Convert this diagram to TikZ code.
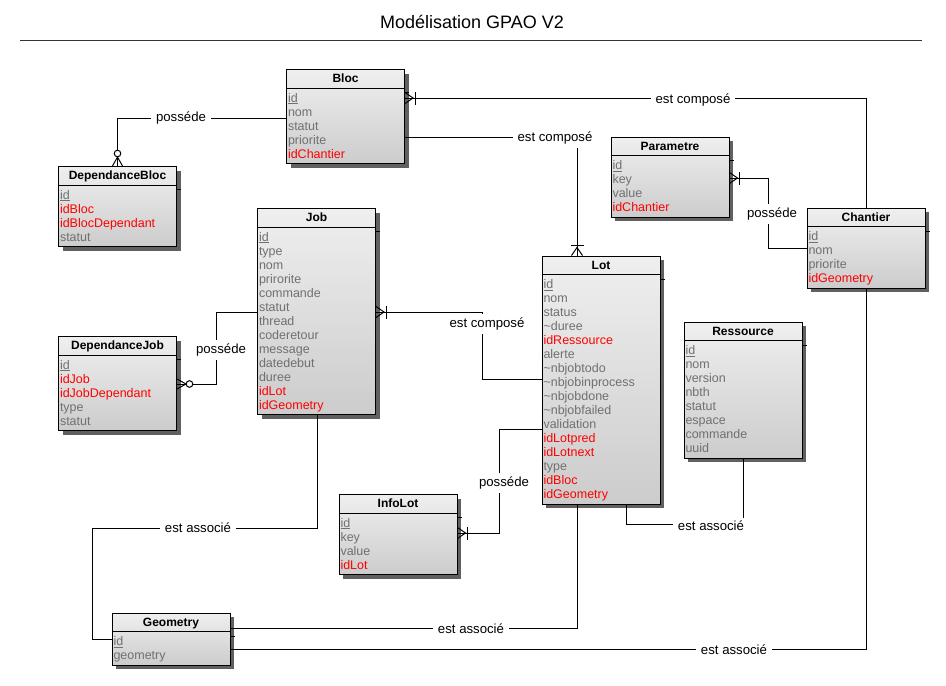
\documentclass[tikz,border=0pt]{standalone}
\usepackage{fontspec}
\setmainfont{Liberation Sans}
\usetikzlibrary{shadows}
\definecolor{attr}{HTML}{707070}
\definecolor{boxtop}{HTML}{EFEFEF}
\definecolor{boxbot}{HTML}{CCCCCC}
\definecolor{shade}{HTML}{606060}
\newcommand\pk[1]{\underline{#1}}
\newcommand\fk[1]{\textcolor{red}{#1}}
\tikzset{
  tbl/.style={draw, line width=1pt, anchor=north west, minimum width=118pt, inner sep=0pt,
    top color=boxtop, bottom color=boxbot,
    drop shadow={shadow xshift=4pt, shadow yshift=-4pt, fill=shade, opacity=1}},
  hdr/.style={anchor=base, inner sep=0pt, font=\fontsize{12}{14}\selectfont\bfseries},
  attrib/.style={anchor=base west, inner sep=0pt, text=attr, font=\fontsize{12.5}{14}\selectfont},
  lbl/.style={fill=white, inner xsep=5pt, inner ysep=3.5pt, font=\fontsize{13.2}{15}\selectfont},
  one many/.pic={\draw (0,-5.5) -- (8,0) -- (0,5.5); \draw (10,-6.5) -- (10,6.5);},
  zero many/.pic={\draw (0,-5) -- (9,0) -- (0,5); \draw[fill=white] (12.5,0) circle (3.3pt);},
}
% table: name, north west corner, title, number of rows, rows
\newcommand\entite[5]{%
  \node[tbl, minimum height={24+14*#4}] (#1) at (#2) {};
  \draw ([yshift=-19pt]#1.north west) -- ([yshift=-19pt]#1.north east);
  \draw ([yshift=-23.5pt]#1.north east) -- ++(4pt,0);
  \node[hdr] (#1-titre) at ([yshift=-13.6pt]#1.north) {#3};
  \foreach \a [count=\i] in {#5}
    \node[attrib] (#1-\i) at ([xshift=1.5pt,yshift={-19pt-14pt*\i}]#1.north west) {\a};
}
\begin{document}
\begin{tikzpicture}[x=1pt, y=-1pt, line width=1pt]
\useasboundingbox (0,0) rectangle (946,686);
\node[font=\fontsize{18}{20}\selectfont] (titre) at (472,22) {Modélisation GPAO V2};
\draw[black!80] (20,40) -- (922,40);

\entite{bloc}{286,69}{Bloc}{5}{\pk{id}, nom, statut, priorite, \fk{idChantier}}
\entite{depbloc}{58,166}{DependanceBloc}{4}{\pk{id}, \fk{idBloc}, \fk{idBlocDependant}, statut}
\entite{job}{257,208}{Job}{13}{\pk{id}, type, nom, prirorite, commande, statut, thread,
  coderetour, message, datedebut, duree, \fk{idLot}, \fk{idGeometry}}
\entite{depjob}{58,336}{DependanceJob}{5}{\pk{id}, \fk{idJob}, \fk{idJobDependant}, type, statut}
\entite{param}{610.5,136.5}{Parametre}{4}{\pk{id}, key, value, \fk{idChantier}}
\entite{chantier}{806.5,207.5}{Chantier}{4}{\pk{id}, nom, priorite, \fk{idGeometry}}
\entite{lot}{541.5,255.5}{Lot}{16}{\pk{id}, nom, status, \textasciitilde duree, \fk{idRessource},
  alerte, \textasciitilde nbjobtodo, \textasciitilde nbjobinprocess, \textasciitilde nbjobdone,
  \textasciitilde nbjobfailed, validation, \fk{idLotpred}, \fk{idLotnext}, type, \fk{idBloc},
  \fk{idGeometry}}
\entite{ressource}{683.5,321.5}{Ressource}{8}{\pk{id}, nom, version, nbth, statut, espace,
  commande, uuid}
\entite{infolot}{338.5,494}{InfoLot}{4}{\pk{id}, key, value, \fk{idLot}}
\entite{geometry}{111.5,612.5}{Geometry}{2}{\pk{id}, geometry}

% links
\draw (bloc.east |- 0,98) -| (chantier.north);
\draw (bloc.east |- 0,137) -| (lot.north -| 577,0);
\draw (bloc.west |- 0,118) -| (depbloc.north);
\draw (job.west |- 0,312) -- (216,312) |- (depjob.east |- 0,384);
\draw (job.east |- 0,312) -- (482,312) |- (lot.west |- 0,379);
\draw (lot.west |- 0,429) -- (499,429) |- (infolot.east |- 0,533);
\draw (job.south -| 317,0) |- (92,528) |- (geometry.west |- 0,639);
\draw (param.east |- 0,178) -- (768,178) |- (chantier.west |- 0,248);
\draw (chantier.south) |- (geometry.east |- 0,649);
\draw (lot.south -| 577,0) |- (geometry.east |- 0,628);
\draw (lot.south -| 626,0) |- (ressource.south |- 0,524) -- (ressource.south);

\pic at (bloc.east |- 0,98) {one many};
\pic[rotate=90] at (lot.north -| 577,0) {one many};
\pic[rotate=90] at (depbloc.north) {zero many};
\pic at (depjob.east |- 0,384) {zero many};
\pic at (job.east |- 0,312) {one many};
\pic at (infolot.east |- 0,533) {one many};
\pic at (param.east |- 0,178) {one many};

\node[lbl] (l1) at (693,100) {est composé};
\node[lbl] (l2) at (555,138) {est composé};
\node[lbl] (l3) at (181,118) {posséde};
\node[lbl] (l4) at (221,350) {posséde};
\node[lbl] (l5) at (487,324) {est composé};
\node[lbl] (l6) at (504,483) {posséde};
\node[lbl] (l7) at (198,528) {est associé};
\node[lbl] (l8) at (772,214) {posséde};
\node[lbl] (l9) at (734,650) {est associé};
\node[lbl] (l10) at (471,629) {est associé};
\node[lbl] (l11) at (711,526) {est associé};
\end{tikzpicture}
\end{document}
